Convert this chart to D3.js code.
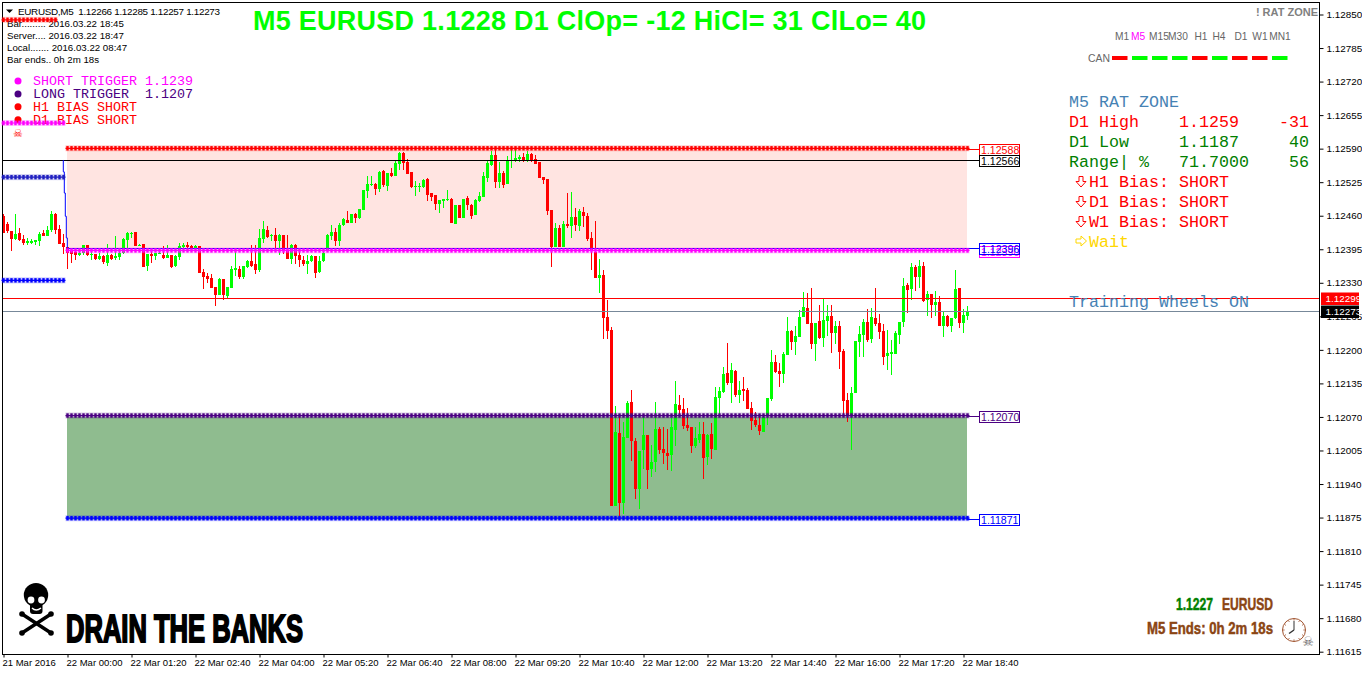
<!DOCTYPE html>
<html lang="en">
  <head>
    <meta charset="UTF-8" />
    <title>EURUSD M5 RAT ZONE</title>
    <style>
      body {
        margin: 0;
        background: #fff;
      }
      svg {
        display: block;
        font-family: "Liberation Sans", Arial, sans-serif;
      }
      text {
        white-space: pre;
      }
      .mono {
        font-family: "Liberation Mono", "Courier New", monospace;
      }
      .narrow {
        font-family: "Liberation Sans Narrow", "Liberation Sans", sans-serif;
        font-weight: bold;
      }
      .axis text {
        fill: #000;
      }
      .axis line {
        stroke: #000;
      }
    </style>
  </head>
  <body>
    <script src="https://d3js.org/d3.v7.min.js"></script>
    <script>
      // candle values are points above 1.11000
      const opens = [
        1460,1444,1431,1415,1427,1415,1407,1407,1409,1411,
        1427,1421,1433,1464,1435,1407,1400,1392,1390,1384,
        1388,1404,1385,1386,1376,1382,1369,1384,1378,1380,
        1388,1413,1426,1429,1402,1405,1363,1386,1382,1387,
        1384,1378,1384,1363,1380,1400,1404,1402,1398,1402,
        1351,1343,1340,1322,1307,1338,1305,1320,1355,1357,
        1341,1361,1372,1367,1355,1415,1433,1421,1423,1411,
        1423,1394,1376,1404,1384,1374,1367,1372,1382,1351,
        1372,1392,1421,1429,1411,1442,1452,1446,1464,1456,
        1471,1508,1520,1522,1512,1547,1518,1543,1537,1560,
        1582,1564,1545,1516,1516,1516,1531,1504,1500,1483,
        1489,1491,1493,1444,1481,1456,1495,1481,1462,1489,
        1497,1533,1559,1578,1526,1543,1522,1566,1568,1570,
        1574,1568,1580,1570,1564,1535,1531,1471,1400,1436,
        1400,1444,1440,1458,1440,1467,1460,1417,1390,1340,
        1345,1264,1238,897,1039,903,1029,1099,1023,930,
        1006,1035,969,983,1046,1008,1000,996,1045,1093,
        1085,1054,1050,1013,1025,1037,992,1037,1006,1107,
        1118,1155,1136,1159,1112,1124,1122,1087,1064,1054,
        1041,1074,1105,1176,1159,1153,1190,1237,1215,1225,
        1264,1281,1252,1212,1256,1223,1256,1266,1233,1246,
        1198,1103,1074,1117,1215,1229,1254,1221,1262,1252,
        1237,1188,1192,1192,1229,1254,1326,1318,1361,1341,
        1363,1297,1308,1287,1293,1246,1266,1246,1262,1320,
        1252,1266
      ];
      const highs = [
        1464,1448,1431,1464,1436,1423,1416,1415,1413,1429,
        1433,1440,1469,1465,1442,1425,1400,1394,1394,1392,
        1404,1404,1390,1386,1388,1384,1405,1386,1421,1390,
        1417,1429,1429,1429,1405,1405,1386,1394,1388,1391,
        1402,1404,1384,1384,1407,1407,1409,1404,1404,1402,
        1357,1349,1347,1322,1340,1338,1322,1363,1390,1363,
        1363,1374,1404,1404,1435,1450,1440,1425,1436,1425,
        1423,1423,1405,1405,1392,1382,1384,1384,1382,1382,
        1390,1425,1442,1436,1446,1456,1469,1464,1466,1473,
        1510,1537,1537,1524,1547,1549,1543,1553,1568,1584,
        1584,1570,1545,1528,1524,1531,1533,1504,1500,1491,
        1493,1510,1495,1481,1481,1493,1498,1483,1493,1506,
        1545,1566,1586,1590,1564,1547,1576,1588,1588,1578,
        1582,1586,1582,1578,1564,1535,1531,1471,1446,1442,
        1450,1504,1506,1475,1473,1477,1466,1429,1450,1376,
        1355,1296,1244,1091,1070,1060,1101,1122,1029,1004,
        1070,1035,1015,1099,1050,1050,1046,1068,1139,1112,
        1107,1087,1050,1050,1060,1060,1037,1058,1128,1128,
        1167,1213,1174,1161,1139,1147,1126,1099,1079,1074,
        1074,1107,1200,1190,1174,1196,1264,1239,1246,1277,
        1312,1310,1320,1252,1287,1301,1287,1287,1256,1256,
        1202,1117,1128,1217,1246,1260,1279,1281,1320,1270,
        1250,1239,1219,1237,1254,1339,1330,1368,1365,1374,
        1370,1314,1308,1314,1305,1274,1268,1262,1355,1320,
        1279,1285
      ];
      const lows = [
        1427,1427,1392,1412,1411,1404,1404,1405,1404,1402,
        1421,1421,1429,1425,1405,1386,1357,1369,1374,1382,
        1384,1382,1374,1374,1374,1367,1363,1374,1374,1374,
        1386,1396,1417,1402,1402,1361,1353,1369,1374,1386,
        1376,1378,1359,1361,1374,1398,1398,1392,1394,1349,
        1318,1330,1320,1285,1307,1297,1301,1320,1343,1338,
        1338,1359,1361,1347,1351,1407,1417,1411,1396,1384,
        1386,1376,1367,1367,1361,1363,1347,1371,1340,1349,
        1371,1390,1413,1402,1402,1440,1446,1446,1446,1454,
        1471,1495,1518,1500,1506,1516,1508,1535,1537,1549,
        1549,1541,1514,1498,1506,1514,1489,1489,1471,1466,
        1475,1489,1446,1444,1456,1456,1471,1454,1462,1487,
        1497,1526,1557,1514,1514,1514,1522,1553,1564,1564,
        1564,1564,1564,1560,1533,1522,1462,1361,1400,1400,
        1400,1436,1417,1431,1431,1438,1411,1355,1340,1310,
        1221,1221,897,897,877,882,1029,984,911,891,
        969,930,953,963,998,979,967,965,1013,1074,
        1046,1043,1000,1010,1019,950,977,988,1006,1072,
        1116,1132,1097,1108,1097,1101,1085,1045,1050,1035,
        1041,1054,1101,1155,1128,1136,1190,1200,1190,1225,
        1264,1250,1202,1179,1221,1206,1227,1194,1212,1163,
        1074,1060,1006,1117,1186,1186,1215,1213,1246,1221,
        1171,1161,1151,1192,1212,1244,1272,1297,1314,1320,
        1293,1266,1262,1266,1246,1225,1244,1235,1260,1243,
        1233,1257
      ];
      const closes = [
        1427,1431,1415,1425,1413,1407,1411,1411,1413,1425,
        1421,1433,1464,1433,1405,1400,1388,1386,1384,1388,
        1404,1384,1386,1376,1382,1371,1384,1376,1382,1388,
        1415,1427,1427,1402,1404,1361,1386,1382,1388,1388,
        1378,1384,1361,1382,1402,1404,1400,1396,1402,1349,
        1341,1338,1320,1307,1338,1307,1322,1357,1359,1341,
        1363,1372,1363,1355,1417,1435,1419,1423,1411,1423,
        1394,1376,1404,1382,1374,1367,1372,1382,1349,1372,
        1388,1423,1429,1411,1442,1454,1446,1464,1456,1473,
        1510,1522,1522,1512,1545,1520,1543,1537,1562,1582,
        1562,1541,1516,1518,1518,1529,1500,1497,1483,1491,
        1493,1493,1446,1481,1456,1493,1481,1460,1491,1498,
        1537,1562,1578,1526,1543,1520,1566,1568,1572,1574,
        1568,1580,1566,1560,1533,1529,1469,1400,1436,1400,
        1444,1440,1458,1442,1469,1460,1415,1392,1340,1345,
        1262,1236,897,1041,903,1031,1097,1023,930,1004,
        1035,967,983,1046,1006,1000,994,1050,1095,1083,
        1052,1048,1013,1029,1037,990,1035,1008,1108,1120,
        1153,1136,1161,1112,1122,1120,1085,1062,1054,1043,
        1070,1107,1176,1157,1153,1192,1236,1215,1227,1264,
        1283,1250,1212,1252,1223,1258,1266,1233,1246,1196,
        1101,1074,1117,1217,1231,1254,1219,1264,1250,1235,
        1186,1194,1196,1233,1254,1324,1316,1361,1341,1363,
        1295,1308,1287,1293,1246,1266,1246,1262,1318,1252,
        1268,1273
      ];

      const priceTicks = [
        1.1285, 1.12785, 1.1272, 1.12655, 1.1259, 1.12525, 1.1246, 1.12395, 1.1233, 1.12265,
        1.122, 1.12135, 1.1207, 1.12005, 1.1194, 1.11875, 1.1181, 1.11745, 1.1168, 1.11615
      ];
      const timeLabels = [
        "21 Mar 2016", "22 Mar 00:00", "22 Mar 01:20", "22 Mar 02:40", "22 Mar 04:00", "22 Mar 05:20",
        "22 Mar 06:40", "22 Mar 08:00", "22 Mar 09:20", "22 Mar 10:40", "22 Mar 12:00", "22 Mar 13:20",
        "22 Mar 14:40", "22 Mar 16:00", "22 Mar 17:20", "22 Mar 18:40"
      ];
      const timeTickBars = timeLabels.map((d, i) => i * 16);

      // levels, in the same points
      const zoneHigh = 1588;
      const zoneLow = 1396;
      const shortLevel = 1390;
      const blackLevel = 1566;
      const longLevel = 1070;
      const bottomLevel = 871;
      const redLine = 1299;
      const greyLine = 1273;
      const prevRed = 1837;
      const prevMagenta = 1637;
      const prevBlueHigh = 1532;
      const prevBlueLow = 1332;
      // the blue line that climbs down from the black level to the zone low
      const stepBars = [15, 15, 15.25, 15.25, 15.5, 15.5, 15.75, 15.75, 16, 16];
      const stepLevels = [1568, 1545, 1545, 1504, 1504, 1459, 1459, 1417, 1417, 1396];

      const timeframes = ["M1", "M5", "M15", "M30", "H1", "H4", "D1", "W1", "MN1"];
      const timeframeX = [1122, 1138, 1159, 1178, 1201, 1219, 1241, 1260, 1280];
      const canDirections = [-1, 1, 1, 1, -1, 1, -1, -1, 1];

      const infoLines = [
        "Bar......... 2016.03.22 18:45",
        "Server.... 2016.03.22 18:47",
        "Local....... 2016.03.22 08:47",
        "Bar ends.. 0h 2m 18s"
      ];
      const legendLabels = ["SHORT TRIGGER 1.1239", "LONG TRIGGER  1.1207", "H1 BIAS SHORT", "D1 BIAS SHORT"];
      const legendColors = ["#ff00ff", "#4b0082", "#ff0000", "#ff0000"];
      const biasLabels = ["H1 Bias: SHORT", "D1 Bias: SHORT", "W1 Bias: SHORT"];

      const width = 1362;
      const height = 675;
      const frame = { left: 2.5, right: 1319.5, top: 2.5, bottom: 654.5 };
      const toPrice = p => 1.11 + p / 100000;

      const bars = opens.map((o, i) => ({ i, o, h: highs[i], l: lows[i], c: closes[i] }));

      const x = d3.scaleLinear().domain([0, 240]).range([3.5, 963.5]);
      const y = d3.scaleLinear().domain([1.11615, 1.1285]).range([651.7, 14.5]);
      const yp = p => y(toPrice(p));

      const svg = d3.select("body").append("svg").attr("width", width).attr("height", height);

      // zones go under everything
      const zoneLeft = x(16) - 0.5;
      const zoneRight = x(241) - 0.5;
      svg.append("rect")
        .attr("x", zoneLeft).attr("width", zoneRight - zoneLeft)
        .attr("y", yp(zoneHigh)).attr("height", yp(zoneLow) - yp(zoneHigh))
        .attr("fill", "#ffe4e1");
      svg.append("rect")
        .attr("x", zoneLeft).attr("width", zoneRight - zoneLeft)
        .attr("y", yp(longLevel)).attr("height", yp(bottomLevel) - yp(longLevel))
        .attr("fill", "#8fbc8f");

      // axes
      const yAxis = d3.axisRight(y).tickValues(priceTicks).tickSize(4).tickFormat(d3.format(".5f"));
      svg.append("g").attr("class", "axis")
        .attr("transform", `translate(${frame.right},0)`)
        .call(yAxis)
        .call(g => g.select(".domain").remove())
        .call(g => g.selectAll("text").attr("font-size", 9.9));

      const xAxis = d3.axisBottom(x).tickValues(timeTickBars).tickSize(3).tickFormat((d, i) => timeLabels[i]);
      svg.append("g").attr("class", "axis")
        .attr("transform", `translate(0,${frame.bottom})`)
        .call(xAxis)
        .call(g => g.select(".domain").remove())
        .call(g => g.selectAll("text")
          .attr("font-size", 9.5)
          .attr("text-anchor", "start").attr("dx", -1.5).attr("dy", "0.72em").attr("y", 5));

      // candles
      const candleColor = d => (d.c >= d.o ? "#00ff00" : "#ff0000");
      const candles = svg.append("g").attr("shape-rendering", "crispEdges");
      candles.selectAll("line")
        .data(bars)
        .enter()
        .append("line")
        .attr("x1", d => x(d.i))
        .attr("x2", d => x(d.i))
        .attr("y1", d => yp(d.h))
        .attr("y2", d => yp(d.l))
        .attr("stroke", candleColor);
      candles.selectAll("rect")
        .data(bars)
        .enter()
        .append("rect")
        .attr("x", d => x(d.i) - 1.5)
        .attr("width", 3)
        .attr("y", d => yp(Math.max(d.o, d.c)))
        .attr("height", d => Math.max(1, Math.abs(yp(d.o) - yp(d.c))))
        .attr("fill", candleColor);

      // solid lines
      const hline = (x1, x2, level, color) =>
        svg.append("line")
          .attr("x1", x1).attr("x2", x2)
          .attr("y1", Math.round(yp(level)) - 0.5).attr("y2", Math.round(yp(level)) - 0.5)
          .attr("stroke", color);
      hline(frame.left, 979, blackLevel, "#000");
      hline(frame.left, frame.right, redLine, "#ff0000");
      hline(frame.left, frame.right, greyLine, "#778899");
      hline(zoneLeft, 979, zoneLow, "#0000ff");
      hline(967, 979, zoneHigh, "#ff0000");
      hline(967, 979, longLevel, "#4b0082");
      hline(967, 979, bottomLevel, "#0000ff");

      const stepLine = d3.line().x((d, i) => x(stepBars[i]) - 0.2).y(d => yp(d));
      svg.append("path")
        .attr("d", stepLine(stepLevels))
        .attr("fill", "none")
        .attr("stroke", "#0000ff");

      // beaded trigger lines, one bead per bar
      function beads(level, from, to, color) {
        const g = svg.append("g").attr("transform", "translate(0,-1.4)");
        const barIdx = d3.range(from, to + 1);
        g.selectAll(".halo").data(barIdx).enter().append("rect")
          .attr("class", "halo")
          .attr("x", d => x(d) - 2).attr("width", 4)
          .attr("y", yp(level) - 3).attr("height", 6)
          .attr("fill", color).attr("opacity", 0.22);
        g.append("line")
          .attr("x1", x(from) - 2).attr("x2", x(to) + 2)
          .attr("y1", yp(level)).attr("y2", yp(level))
          .attr("stroke", color).attr("stroke-width", 1.2);
        g.selectAll(".bead").data(barIdx).enter().append("rect")
          .attr("class", "bead")
          .attr("x", d => x(d) - 1.2).attr("width", 2.4)
          .attr("y", yp(level) - 2.2).attr("height", 4.4)
          .attr("fill", color);
      }

      // boxed price tags at the end of the levels
      function tag(level, label, color) {
        const cy = yp(level);
        svg.append("rect")
          .attr("x", 979.5).attr("y", Math.round(cy) - 5.5)
          .attr("width", 40).attr("height", 11)
          .attr("fill", "none").attr("stroke", color);
        svg.append("text")
          .attr("x", 981).attr("y", Math.round(cy) + 4)
          .attr("font-size", 10.6)
          .attr("fill", color)
          .text(label);
      }

      // frame
      svg.append("rect")
        .attr("x", frame.left).attr("y", frame.top)
        .attr("width", frame.right - frame.left).attr("height", frame.bottom - frame.top)
        .attr("fill", "none").attr("stroke", "#000");

      // header
      svg.append("path").attr("d", "M6,9.5 L13,9.5 L9.5,13 Z").attr("fill", "#000");
      svg.append("text").attr("x", 18).attr("y", 14.5).attr("font-size", 9.9)
        .attr("textLength", 202).attr("lengthAdjust", "spacing")
        .text("EURUSD,M5  1.12266 1.12285 1.12257 1.12273");
      svg.selectAll(".info").data(infoLines).enter().append("text")
        .attr("class", "info")
        .attr("x", 7).attr("y", (d, i) => 27 + i * 12)
        .attr("font-size", 9.7)
        .text(d => d);

      // big title
      svg.append("text")
        .attr("x", 253).attr("y", 29.5)
        .attr("font-size", 27).attr("font-weight", "bold")
        .attr("fill", "#00ff00")
        .attr("textLength", 673).attr("lengthAdjust", "spacing")
        .text("M5 EURUSD 1.1228 D1 ClOp= -12 HiCl= 31 ClLo= 40");

      // legend top left
      svg.selectAll(".dot").data(legendLabels).enter().append("circle")
        .attr("class", "dot")
        .attr("cx", 18).attr("cy", (d, i) => 81 + i * 12.9)
        .attr("r", 3.5)
        .attr("fill", (d, i) => legendColors[i]);
      svg.selectAll(".legend").data(legendLabels).enter().append("text")
        .attr("class", "legend mono")
        .attr("x", 33).attr("y", (d, i) => 85 + i * 13)
        .attr("font-size", 13.33)
        .attr("fill", (d, i) => legendColors[i])
        .text(d => d);
      svg.append("text").attr("x", 18).attr("y", 137).attr("text-anchor", "middle")
        .attr("font-family", "DejaVu Sans").attr("font-size", 11).attr("fill", "#ff0000").text("☠");

      beads(prevRed, 0, 13, "#ff0000");
      beads(prevMagenta, 0, 15, "#ff00ff");
      beads(prevBlueHigh, 0, 15, "#2020c0");
      beads(prevBlueLow, 0, 15, "#0000ff");
      beads(zoneHigh, 16, 241, "#ff0000");
      beads(shortLevel, 16, 241, "#ff00ff");
      beads(longLevel, 16, 241, "#4b0082");
      beads(bottomLevel, 16, 241, "#0000ff");

      tag(zoneHigh, "1.12588", "#ff0000");
      tag(blackLevel, "1.12566", "#000");
      tag(shortLevel, "1.12390", "#ff00ff");
      tag(zoneLow, "1.12396", "#0000ff");
      tag(longLevel, "1.12070", "#4b0082");
      tag(bottomLevel, "1.11871", "#0000ff");

      // right panel
      svg.append("text").attr("x", 1318).attr("y", 15.5).attr("text-anchor", "end")
        .attr("font-size", 11).attr("font-weight", "bold").attr("fill", "#808080").text("! RAT ZONE");
      svg.selectAll(".tf").data(timeframes).enter().append("text")
        .attr("class", "tf")
        .attr("x", (d, i) => timeframeX[i]).attr("y", 40)
        .attr("text-anchor", "middle")
        .attr("font-size", 10.2)
        .attr("fill", d => (d === "M5" ? "#ff00ff" : "#666"))
        .text(d => d);
      svg.append("text").attr("x", 1088).attr("y", 62).attr("font-size", 10.4).attr("fill", "#666").text("CAN");
      svg.selectAll(".can").data(canDirections).enter().append("rect")
        .attr("class", "can")
        .attr("x", (d, i) => 1112 + i * 20).attr("y", 56)
        .attr("width", 15.5).attr("height", 4)
        .attr("fill", d => (d > 0 ? "#00ff00" : "#ff0000"));

      const panelFont = 16.67;
      const panelText = (px, py, color, str, anchor) =>
        svg.append("text").attr("class", "mono")
          .attr("x", px).attr("y", py)
          .attr("font-size", panelFont)
          .attr("text-anchor", anchor || "start")
          .attr("fill", color)
          .text(str);
      // hollow arrow pointing down, the right-pointing one is the same shape turned
      const hollowArrow = (cx, cy, color, turn) =>
        svg.append("path")
          .attr("d", "M-2,-5 H2 V0 H5 L0,5.5 L-5,0 H-2 Z")
          .attr("transform", `translate(${cx},${cy}) rotate(${turn})`)
          .attr("fill", "#fff")
          .attr("stroke", color);
      panelText(1069, 107, "#4682b4", "M5 RAT ZONE");
      panelText(1069, 127, "#ff0000", "D1 High");
      panelText(1179, 127, "#ff0000", "1.1259");
      panelText(1309, 127, "#ff0000", "-31", "end");
      panelText(1069, 147, "#008000", "D1 Low");
      panelText(1179, 147, "#008000", "1.1187");
      panelText(1309, 147, "#008000", "40", "end");
      panelText(1069, 167, "#008000", "Range| %");
      panelText(1179, 167, "#008000", "71.7000");
      panelText(1309, 167, "#008000", "56", "end");
      biasLabels.forEach((d, i) => {
        hollowArrow(1081, 181.5 + i * 20, "#ff0000", 0);
        panelText(1089, 187 + i * 20, "#ff0000", d);
      });
      hollowArrow(1081, 241, "#ffd700", -90);
      panelText(1089, 247, "#ffd700", "Wait");
      panelText(1069, 307, "#4682b4", "Training Wheels ON");

      // skull and crossbones
      const skull = svg.append("g");
      [[22, 614, 51, 633], [51, 614, 22, 633]].forEach(b => {
        skull.append("line")
          .attr("x1", b[0]).attr("y1", b[1]).attr("x2", b[2]).attr("y2", b[3])
          .attr("stroke", "#000").attr("stroke-width", 3.5).attr("stroke-linecap", "round");
        [[b[0], b[1]], [b[2], b[3]]].forEach(e => {
          skull.append("circle").attr("cx", e[0]).attr("cy", e[1]).attr("r", 2.8).attr("fill", "#000");
        });
      });
      skull.append("ellipse").attr("cx", 36).attr("cy", 595).attr("rx", 12.2).attr("ry", 12).attr("fill", "#000");
      skull.append("rect").attr("x", 30).attr("y", 603).attr("width", 12.5).attr("height", 11).attr("rx", 3).attr("fill", "#000");
      skull.append("circle").attr("cx", 31).attr("cy", 600).attr("r", 3.4).attr("fill", "#fff");
      skull.append("circle").attr("cx", 41.5).attr("cy", 600).attr("r", 3.4).attr("fill", "#fff");
      skull.append("path").attr("d", "M32,608 Q36,612 41,608").attr("fill", "none").attr("stroke", "#fff").attr("stroke-width", 1.4);

      svg.append("text").attr("class", "narrow")
        .attr("x", 66).attr("y", 641.5)
        .attr("font-size", 39)
        .attr("fill", "#000").attr("stroke", "#000").attr("stroke-width", 2)
        .attr("textLength", 237).attr("lengthAdjust", "spacingAndGlyphs")
        .text("DRAIN THE BANKS");

      // bottom right
      const boldNote = (px, py, color, str, len) =>
        svg.append("text").attr("class", "narrow")
          .attr("x", px).attr("y", py)
          .attr("font-size", 16.5)
          .attr("fill", color).attr("stroke", color).attr("stroke-width", 0.5)
          .attr("textLength", len).attr("lengthAdjust", "spacingAndGlyphs")
          .text(str);
      boldNote(1176, 609.5, "#008000", "1.1227", 37);
      boldNote(1222, 609.5, "#8b4513", "EURUSD", 51);
      boldNote(1147, 634, "#8b4513", "M5 Ends: 0h 2m 18s", 126);

      const clock = svg.append("g").attr("transform", "translate(1294,630)").attr("stroke", "#a0522d").attr("fill", "none");
      clock.append("circle").attr("r", 11.5);
      d3.range(12).forEach(h => {
        const a = (h * Math.PI) / 6;
        clock.append("line")
          .attr("x1", 9.5 * Math.sin(a)).attr("y1", -9.5 * Math.cos(a))
          .attr("x2", 10.8 * Math.sin(a)).attr("y2", -10.8 * Math.cos(a));
      });
      clock.append("line").attr("y2", -9).attr("stroke", "#333");
      clock.append("line").attr("x2", -5).attr("y2", 3.5).attr("stroke", "#333").attr("stroke-width", 1.5);
      svg.append("text").attr("x", 1308).attr("y", 646).attr("text-anchor", "middle")
        .attr("font-family", "DejaVu Sans").attr("font-size", 13).attr("fill", "#666").text("☠");

      // live price tags on the axis
      function priceTag(level, label, color) {
        const cy = yp(level);
        svg.append("rect")
          .attr("x", 1321).attr("width", 38)
          .attr("y", Math.round(cy) - 6.5).attr("height", 12.5)
          .attr("fill", color);
        svg.append("text")
          .attr("x", 1325.5).attr("y", Math.round(cy) + 3)
          .attr("font-size", 9.9).attr("fill", "#fff")
          .text(label);
      }
      priceTag(redLine, "1.12299", "#ff0000");
      priceTag(greyLine, "1.12273", "#000");
    </script>
  </body>
</html>
